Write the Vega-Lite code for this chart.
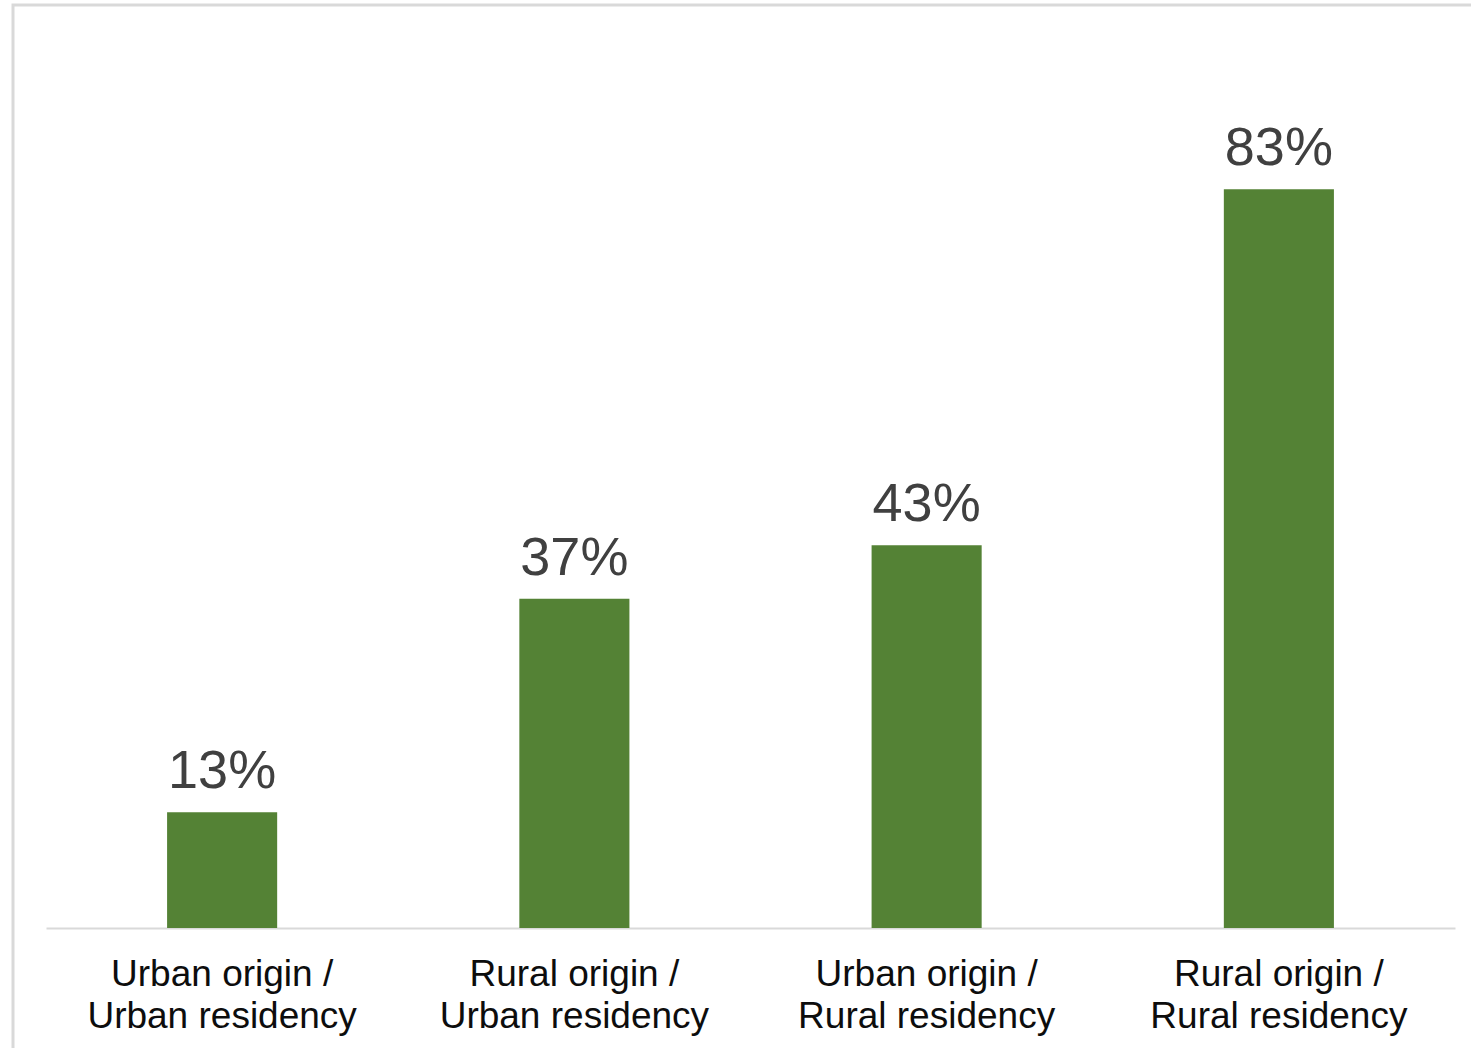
{
  "$schema": "https://vega.github.io/schema/vega-lite/v6.json",
  "width": 1470,
  "height": 1060,
  "autosize": {"type": "none"},
  "padding": {"left": 13, "top": 5, "right": 0, "bottom": 0},
  "background": "white",
  "config": {
    "view": {"stroke": "#d9d9d9", "strokeWidth": 3},
    "font": "Liberation Sans"
  },
  "data": {
    "values": [
      {"group": "Urban origin / Urban residency", "share": 0.13},
      {"group": "Rural origin / Urban residency", "share": 0.37},
      {"group": "Urban origin / Rural residency", "share": 0.43},
      {"group": "Rural origin / Rural residency", "share": 0.83}
    ]
  },
  "encoding": {
    "x": {
      "field": "group",
      "type": "nominal",
      "sort": null,
      "scale": {"range": [33, 1442], "paddingInner": 0.6875, "paddingOuter": 0.34375},
      "axis": {
        "title": null,
        "orient": "bottom",
        "offset": -137,
        "domainColor": "#d9d9d9",
        "domainWidth": 2,
        "ticks": false,
        "labelAngle": 0,
        "labelFontSize": 37,
        "labelColor": "#0d0d0d",
        "labelPadding": 28,
        "labelBaseline": "top",
        "labelLineHeight": 42,
        "labelLimit": 0,
        "labelOverlap": false,
        "labelExpr": "split(replace(datum.label, '/ ', '/|'), '|')"
      }
    },
    "y": {
      "field": "share",
      "type": "quantitative",
      "scale": {"domain": [0, 1], "range": [923, 33]},
      "axis": null
    }
  },
  "layer": [
    {"mark": {"type": "bar", "color": "#548235"}},
    {
      "mark": {"type": "text", "dy": -24, "baseline": "alphabetic", "fontSize": 54, "color": "#404040"},
      "encoding": {"text": {"field": "share", "type": "quantitative", "format": ".0%"}}
    }
  ]
}
